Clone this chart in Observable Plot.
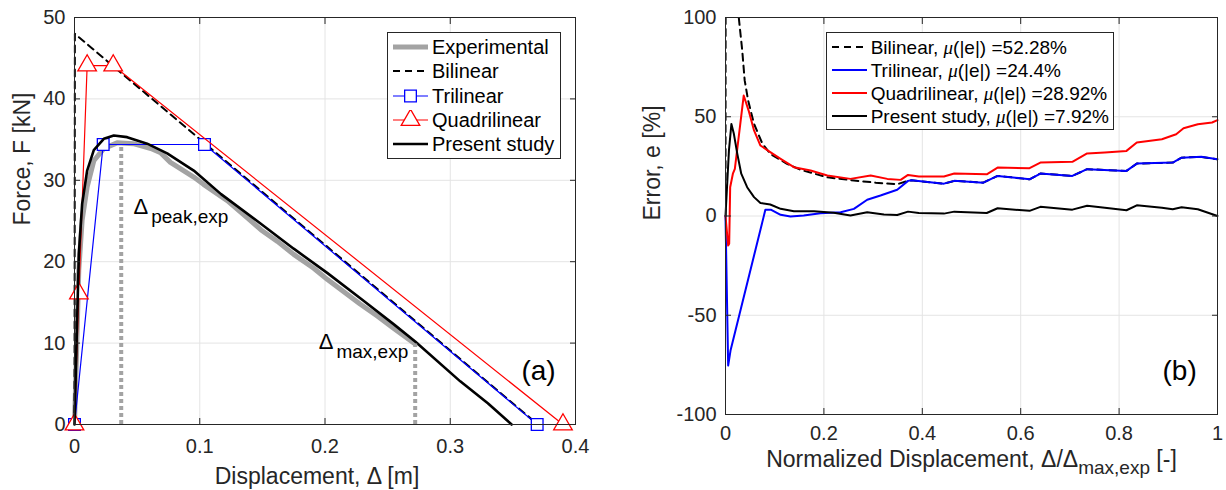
<!DOCTYPE html>
<html><head><meta charset="utf-8">
<script src="https://cdn.jsdelivr.net/npm/d3@7"></script>
<script src="https://cdn.jsdelivr.net/npm/@observablehq/plot@0.6"></script>
<style>
html,body{margin:0;padding:0;background:#fff;}
#fig{position:relative;width:1226px;height:490px;overflow:hidden;font-family:"Liberation Sans",Arial,Helvetica,sans-serif;color:#262626;}
.panel{position:absolute;top:0;}
.legend{position:absolute;background:#fff;border:1px solid #262626;box-sizing:border-box;}
.row{position:absolute;left:0;height:22px;margin-top:-11px;white-space:nowrap;color:#000;}
.row svg{position:absolute;top:1px;}
.row span.t{position:absolute;top:50%;transform:translateY(-50%);line-height:1;}
.mu{font-family:"Liberation Serif","DejaVu Serif",serif;font-style:italic;}
</style></head><body><div id="fig"></div><script>
// ---------------- data: panel (a) force-displacement ----------------
const xTicksL = [0, 0.1, 0.2, 0.3, 0.4];
const yTicksL = [0, 10, 20, 30, 40, 50];
const expDisp  = [0, 0.0016, 0.0034, 0.0061, 0.0101, 0.0154, 0.0234, 0.034, 0.047, 0.061, 0.0687, 0.0766, 0.0952, 0.103, 0.122, 0.138, 0.149, 0.162, 0.175, 0.191, 0.202, 0.215, 0.228, 0.242, 0.255, 0.272];
const expForce = [0, 8.6, 18.9, 25.1, 29.2, 32.4, 33.9, 34.6, 34.5, 33.9, 33.4, 32.2, 30.4, 29.5, 27.5, 25.4, 23.9, 22.5, 20.9, 19.2, 17.8, 16.3, 14.8, 13.3, 11.8, 9.9];
const biDisp   = [0, 0.0003, 0.37];
const biForce  = [0, 48.0, 0];
const triDisp  = [0, 0.0229, 0.1038, 0.3694];
const triForce = [0, 34.4, 34.4, 0];
const quadDisp  = [0, 0.0035, 0.0101, 0.0309, 0.390];
const quadForce = [0, 16.1, 44.1, 44.1, 0];
const psDisp  = [0, 0.0021, 0.0035, 0.0061, 0.0101, 0.0154, 0.0234, 0.0314, 0.042, 0.058, 0.074, 0.0952, 0.117, 0.1485, 0.175, 0.202, 0.23, 0.255, 0.272, 0.308, 0.33, 0.349];
const psForce = [0, 12.8, 21.0, 27.1, 31.2, 33.7, 35.1, 35.5, 35.3, 34.5, 33.3, 31.2, 28.3, 24.7, 21.6, 18.6, 15.3, 12.3, 10.2, 5.3, 2.6, 0];
const refDisp  = [0.0373, 0.272];          // Δpeak,exp and Δmax,exp
const refForce = [34.1, 9.9];
const annotSub = ["peak,exp", "max,exp"];
const annotX   = [0.0471, 0.195];
const annotY   = [25.9, 9.3];
const tagL = ["(a)"], tagLX = [0.3705], tagLY = [6.6];
const xLabelL = "Displacement, Δ [m]";
const yLabelL = "Force, F [kN]";
const legendNamesL = ["Experimental", "Bilinear", "Trilinear", "Quadrilinear", "Present study"];

// ---------------- data: panel (b) error ----------------
const xTicksR = [0, 0.2, 0.4, 0.6, 0.8, 1];
const yTicksR = [-100, -50, 0, 50, 100];
const biN   = [0, 0.0015, 0.01, 0.02, 0.027, 0.034, 0.039, 0.046, 0.058, 0.075, 0.091, 0.125, 0.152, 0.207, 0.261, 0.305, 0.349, 0.371, 0.378, 0.444, 0.465, 0.524, 0.553, 0.618, 0.64, 0.705, 0.735, 0.815, 0.836, 0.909, 0.927, 0.967, 1.0];
const biErr = [0, 600, 250, 140, 100, 83.4, 68.3, 58.2, 46.4, 36.4, 31.3, 26.3, 23.3, 19.5, 17.9, 16.8, 16.0, 17.7, 18.0, 16.3, 17.7, 16.8, 20.2, 18.5, 21.4, 20.2, 23.6, 22.7, 26.4, 26.9, 29.4, 29.8, 28.6];
const triN   = [0, 0.0054, 0.0102, 0.081, 0.093, 0.112, 0.132, 0.159, 0.193, 0.234, 0.261, 0.288, 0.315, 0.349, 0.371, 0.378, 0.444, 0.465, 0.524, 0.553, 0.618, 0.64, 0.705, 0.735, 0.815, 0.836, 0.909, 0.927, 0.967, 1.0];
const triErr = [0, -75.3, -67.8, 3.1, 3.1, 0.6, -0.3, 0.3, 1.4, 1.9, 3.6, 8.2, 10.3, 13.2, 17.7, 18.0, 16.3, 17.7, 16.8, 20.2, 18.5, 21.4, 20.2, 23.6, 22.7, 26.4, 26.9, 29.4, 29.8, 28.6];
const quadN   = [0, 0.0054, 0.0075, 0.0095, 0.015, 0.019, 0.037, 0.047, 0.058, 0.071, 0.091, 0.112, 0.139, 0.173, 0.207, 0.254, 0.295, 0.329, 0.356, 0.371, 0.393, 0.444, 0.465, 0.531, 0.553, 0.618, 0.64, 0.705, 0.735, 0.771, 0.815, 0.836, 0.887, 0.916, 0.931, 0.96, 0.989, 1.0];
const quadErr = [0, -14.9, -14.0, 14.5, 21.3, 23.8, 60.7, 53.1, 43.1, 35.5, 32.2, 28.8, 24.6, 22.9, 20.4, 18.7, 20.4, 18.7, 18.2, 20.7, 19.9, 19.9, 21.4, 21.0, 24.4, 24.1, 26.9, 27.3, 31.5, 32.0, 32.8, 37.0, 38.7, 41.2, 44.2, 46.2, 47.1, 48.3];
const psN   = [0, 0.007, 0.012, 0.017, 0.024, 0.032, 0.044, 0.058, 0.071, 0.091, 0.112, 0.139, 0.18, 0.22, 0.254, 0.288, 0.322, 0.349, 0.371, 0.393, 0.444, 0.465, 0.531, 0.553, 0.618, 0.64, 0.705, 0.735, 0.771, 0.815, 0.836, 0.887, 0.909, 0.927, 0.96, 1.0];
const psErr = [0, 33, 46.4, 41.4, 31.3, 21.3, 14.5, 9.5, 6.5, 5.8, 3.6, 2.4, 2.4, 1.6, 0.3, 1.9, 0.8, 0.5, 2.2, 1.5, 1.2, 2.2, 1.5, 3.9, 2.6, 4.6, 3.2, 5.2, 4.2, 2.9, 5.4, 4.2, 3.4, 4.4, 3.4, 0];
const tagR = ["(b)"], tagRX = [0.923], tagRY = [-78.3];
const xLabelRParts = ["Normalized Displacement, Δ/Δ", "max,exp", " [-]"];
const yLabelR = "Error, e [%]";
const legendNamesR = ["Bilinear", "Trilinear", "Quadrilinear", "Present study"];
const meanAbsErr   = [52.28, 24.4, 28.92, 7.92];

// ---------------- drawing ----------------
const FONT = '"Liberation Sans", Arial, Helvetica, sans-serif';
const INK = "#262626", GRID = "#e4e4e4", GRAY = "#a3a3a3", BLUE = "#0000ff", RED = "#ff0000";
const pts = (xs, ys) => xs.map((x, i) => ({x, y: ys[i]}));
const fmt = d => String(d);

function boxAxes(xT, yT, xPad, yPad) {
  return [
    Plot.frame({stroke: INK}),
    Plot.axisX(xT, {anchor: "bottom", tickSize: -6, tickPadding: xPad, tickFormat: fmt, label: null}),
    Plot.axisX(xT, {anchor: "top", tickSize: -6, tickFormat: () => "", label: null}),
    Plot.axisY(yT, {anchor: "left", tickSize: -6, tickPadding: yPad, tickFormat: fmt, label: null}),
    Plot.axisY(yT, {anchor: "right", tickSize: -6, tickFormat: () => "", label: null})
  ];
}
const style = {fontFamily: FONT, fontSize: "20px", color: INK, background: "transparent", overflow: "visible"};

const left = Plot.plot({
  width: 613, height: 490,
  marginLeft: 74, marginRight: 38, marginTop: 17, marginBottom: 66,
  x: {domain: [0, 0.4]}, y: {domain: [0, 50]},
  style,
  marks: [
    Plot.gridX(xTicksL, {stroke: GRID, strokeOpacity: 1}),
    Plot.gridY(yTicksL, {stroke: GRID, strokeOpacity: 1}),
    Plot.line(pts(expDisp, expForce), {x: "x", y: "y", stroke: GRAY, strokeWidth: 5}),
    Plot.line(pts(biDisp, biForce), {x: "x", y: "y", stroke: "#000", strokeWidth: 2, strokeDasharray: "7,5"}),
    Plot.line(pts(triDisp, triForce), {x: "x", y: "y", stroke: BLUE, strokeWidth: 1.2}),
    Plot.dot(pts(triDisp, triForce), {x: "x", y: "y", symbol: "square", r: 6.6, stroke: BLUE, fill: "white", strokeWidth: 1.3}),
    Plot.line(pts(quadDisp, quadForce), {x: "x", y: "y", stroke: RED, strokeWidth: 1.2}),
    Plot.dot(pts(quadDisp, quadForce), {x: "x", y: "y", symbol: "triangle", r: 6.9, stroke: RED, fill: "white", strokeWidth: 1.3}),
    Plot.line(pts(psDisp, psForce), {x: "x", y: "y", stroke: "#000", strokeWidth: 2.6}),
    Plot.ruleX(pts(refDisp, refForce), {x: "x", y1: 0, y2: "y", stroke: GRAY, strokeWidth: 4, strokeDasharray: "4,3"}),
    Plot.text(pts(annotX, annotY).map((p, i) => ({...p, sub: annotSub[i]})), {x: "x", y: "y", text: d => "Δ" + d.sub, textAnchor: "start", lineAnchor: "bottom", fontSize: 22, fill: "#000"}),
    Plot.text(tagL, {x: tagLX, y: tagLY, text: d => d, fontSize: 28, fill: "#000"}),
    ...boxAxes(xTicksL, yTicksL, 20, 15),
    Plot.text([xLabelL], {frameAnchor: "bottom", dx: -8, dy: 59.3, lineAnchor: "bottom", fontSize: 23}),
    Plot.text([yLabelL], {frameAnchor: "left", rotate: -90, dx: -45, dy: 4.5, lineAnchor: "bottom", fontSize: 23})
  ]
});

const right = Plot.plot({
  width: 613, height: 490,
  marginLeft: 112, marginRight: 9, marginTop: 17, marginBottom: 76,
  x: {domain: [0, 1]}, y: {domain: [-100, 100]},
  style,
  marks: [
    Plot.gridX(xTicksR, {stroke: GRID, strokeOpacity: 1}),
    Plot.gridY(yTicksR, {stroke: GRID, strokeOpacity: 1}),
    Plot.line(pts(biN, biErr), {x: "x", y: "y", stroke: "#000", strokeWidth: 2, strokeDasharray: "7,5", clip: true}),
    Plot.line(pts(triN, triErr), {x: "x", y: "y", stroke: BLUE, strokeWidth: 2}),
    Plot.line(pts(quadN, quadErr), {x: "x", y: "y", stroke: RED, strokeWidth: 2}),
    Plot.line(pts(psN, psErr), {x: "x", y: "y", stroke: "#000", strokeWidth: 2}),
    Plot.text(tagR, {x: tagRX, y: tagRY, text: d => d, fontSize: 28, fill: "#000"}),
    ...boxAxes(xTicksR, yTicksR, 17, 15),
    Plot.text([xLabelRParts.join("")], {frameAnchor: "bottom", dy: 52.7, lineAnchor: "bottom", fontSize: 23}),
    Plot.text([yLabelR], {frameAnchor: "left", rotate: -90, dx: -66, dy: 4.5, lineAnchor: "bottom", fontSize: 23})
  ]
});

// subscripts as tspans (find the text nodes by their content)
function withSub(svg, main, sub, tail, subSize, shift, gap) {
  d3.select(svg).selectAll("text")
    .filter(function() { return this.textContent === main + sub + tail; })
    .each(function() {
      const t = d3.select(this); t.text("");
      t.append("tspan").text(main);
      t.append("tspan").attr("dx", gap).attr("dy", shift).attr("font-size", subSize).text(sub);
      if (tail) t.append("tspan").attr("dy", -shift).text(tail);
    });
}
annotSub.forEach(s => withSub(left, "Δ", s, "", 19, 9, 3));
withSub(right, xLabelRParts[0], xLabelRParts[1], xLabelRParts[2], 19, 7, 0);

const fig = document.getElementById("fig");
left.classList.add("panel"); left.style.left = "0px";
right.classList.add("panel"); right.style.left = "613px";
fig.appendChild(left); fig.appendChild(right);

// legends
function swatch(e) {
  const svg = d3.create("svg").attr("width", 36).attr("height", 20);
  svg.append("line").attr("x1", 0).attr("x2", 35).attr("y1", 10).attr("y2", 10)
    .attr("stroke", e.stroke).attr("stroke-width", e.width).attr("stroke-dasharray", e.dash || null);
  if (e.marker) {
    const sym = e.marker === "square" ? d3.symbolSquare : d3.symbolTriangle;
    const r = e.marker === "square" ? 6.6 : 6.9;
    svg.append("path").attr("transform", "translate(17.5,10)").attr("d", d3.symbol(sym, Math.PI * r * r)())
      .attr("fill", "white").attr("stroke", e.stroke).attr("stroke-width", 1.3);
  }
  return svg.node();
}
function legend(o) {
  const box = document.createElement("div");
  box.className = "legend";
  Object.assign(box.style, {left: o.left + "px", top: o.top + "px", width: o.width + "px", height: o.height + "px"});
  o.entries.forEach((e, i) => {
    const row = document.createElement("div");
    row.className = "row";
    row.style.top = (o.row0 + i * o.step) + "px";
    row.style.width = (o.width - 2) + "px";
    const sw = swatch(e); sw.style.left = o.swX + "px";
    row.appendChild(sw);
    const t = document.createElement("span");
    t.className = "t"; t.style.left = o.textX + "px"; t.style.fontSize = o.fontSize + "px";
    t.innerHTML = e.label;
    row.appendChild(t);
    box.appendChild(row);
  });
  fig.appendChild(box);
}
const stylesL = [
  {stroke: GRAY, width: 5}, {stroke: "#000", width: 2, dash: "7,5"},
  {stroke: BLUE, width: 1.2, marker: "square"}, {stroke: RED, width: 1.2, marker: "triangle"},
  {stroke: "#000", width: 2.6}
];
legend({left: 386.5, top: 32, width: 174, height: 127, row0: 13.7, step: 24.4, swX: 5, textX: 44.5, fontSize: 20,
  entries: legendNamesL.map((n, i) => ({...stylesL[i], label: n}))});
const stylesR = [
  {stroke: "#000", width: 2, dash: "7,5"}, {stroke: BLUE, width: 2}, {stroke: RED, width: 2}, {stroke: "#000", width: 2}
];
legend({left: 826, top: 32, width: 288, height: 98, row0: 14.3, step: 22.9, swX: 4.7, textX: 43.7, fontSize: 19,
  entries: legendNamesR.map((n, i) => ({...stylesR[i], label: `${n}, <span class="mu">μ</span>(|e|) =${meanAbsErr[i]}%`}))});
</script></body></html>
